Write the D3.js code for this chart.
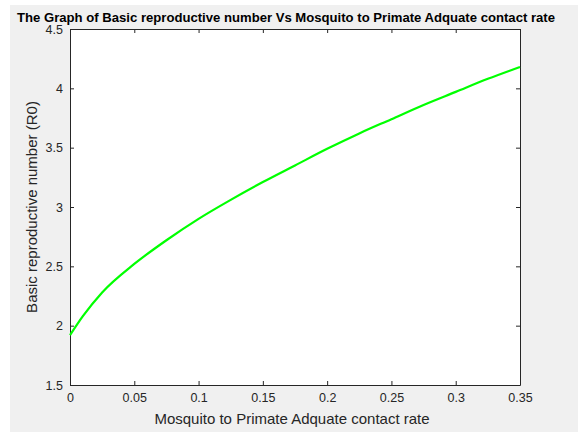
<!DOCTYPE html>
<html>
<head>
<meta charset="utf-8">
<script src="https://cdn.jsdelivr.net/npm/d3@7"></script>
<style>
  body { margin: 0; background: #fff; }
  text { font-family: "Liberation Sans", Arial, sans-serif; }
</style>
</head>
<body>
<script>
// values
var contactRate = [0, 0.01, 0.025, 0.05, 0.075, 0.1, 0.125, 0.15, 0.175, 0.2,
                   0.225, 0.25, 0.275, 0.3, 0.325, 0.35];
var r0 = [1.92, 2.08, 2.28, 2.52, 2.72, 2.90, 3.06, 3.21, 3.35, 3.49,
          3.62, 3.74, 3.86, 3.97, 4.08, 4.18];
var xTicks = [0, 0.05, 0.1, 0.15, 0.2, 0.25, 0.3, 0.35];
var yTicks = [1.5, 2, 2.5, 3, 3.5, 4, 4.5];

var W = 578, H = 432;
var m = {left: 70, right: 58, top: 29, bottom: 47};

var svg = d3.select("body")
  .append("svg")
  .attr("width", W)
  .attr("height", H)

svg.append("rect")
  .attr("x", 10).attr("y", 5)
  .attr("width", W - 10).attr("height", H - 5)
  .attr("fill", "#f0f0f0")

var x = d3.scaleLinear().domain([0, 0.35]).range([m.left, W - m.right]);
var y = d3.scaleLinear().domain([1.5, 4.5]).range([H - m.bottom, m.top]);

svg.append("rect")
  .attr("x", x(0)).attr("y", y(4.5))
  .attr("width", x(0.35) - x(0)).attr("height", y(1.5) - y(4.5))
  .attr("fill", "#fff")

function styleAxis(g, noText) {
  g.select(".domain").attr("stroke", "#262626")
  g.selectAll(".tick line").attr("stroke", "#262626")
  g.selectAll(".tick text")
    .attr("fill", "#262626")
    .style("font-size", "12.5px")
  if (noText) g.selectAll(".tick text").remove()
}

var fmt = function(d) { return String(d); };

svg.append("g")
  .attr("transform", "translate(0," + y(1.5) + ")")
  .call(d3.axisBottom(x).tickValues(xTicks).tickFormat(fmt).tickSizeInner(-4).tickSizeOuter(0).tickPadding(8))
  .call(function(g) { styleAxis(g); });

svg.append("g")
  .attr("transform", "translate(0," + y(4.5) + ")")
  .call(d3.axisTop(x).tickValues(xTicks).tickSizeInner(-4).tickSizeOuter(0))
  .call(function(g) { styleAxis(g, true); });

svg.append("g")
  .attr("transform", "translate(" + x(0) + ",0)")
  .call(d3.axisLeft(y).tickValues(yTicks).tickFormat(fmt).tickSizeInner(-4).tickSizeOuter(0).tickPadding(7))
  .call(function(g) { styleAxis(g); });

svg.append("g")
  .attr("transform", "translate(" + x(0.35) + ",0)")
  .call(d3.axisRight(y).tickValues(yTicks).tickSizeInner(-4).tickSizeOuter(0))
  .call(function(g) { styleAxis(g, true); });

var line = d3.line()
  .x(function(d, i) { return x(contactRate[i]); })
  .y(function(d) { return y(d); })
  .curve(d3.curveMonotoneX);

svg.append("path")
  .datum(r0)
  .attr("d", line)
  .attr("fill", "none")
  .attr("stroke", "#00ff00")
  .attr("stroke-width", 2.2)

svg.append("text")
  .attr("x", 286).attr("y", 22)
  .attr("text-anchor", "middle")
  .attr("textLength", 538)
  .attr("lengthAdjust", "spacingAndGlyphs")
  .style("font-size", "12px")
  .style("font-weight", "bold")
  .attr("fill", "#000")
  .text("The Graph of Basic reproductive number Vs Mosquito to Primate Adquate contact rate")

svg.append("text")
  .attr("x", 292).attr("y", 424)
  .attr("text-anchor", "middle")
  .style("font-size", "15px")
  .attr("fill", "#262626")
  .text("Mosquito to Primate Adquate contact rate")

svg.append("text")
  .attr("transform", "translate(37," + (y(3)) + ") rotate(-90)")
  .attr("text-anchor", "middle")
  .style("font-size", "15px")
  .attr("fill", "#262626")
  .text("Basic reproductive number (R0)")
</script>
</body>
</html>
